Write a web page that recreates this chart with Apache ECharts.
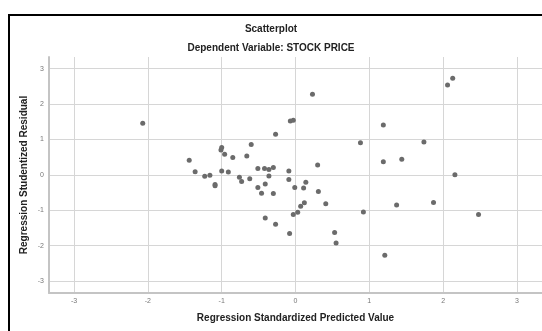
<!DOCTYPE html>
<html>
<head>
<meta charset="utf-8">
<script src="https://cdn.jsdelivr.net/npm/echarts@6/dist/echarts.min.js"></script>
<style>
  html, body { margin: 0; padding: 0; background: #fff; }
  #chart { width: 542px; height: 331px; }
</style>
</head>
<body>
<div id="chart"></div>
<script>
// predicted values (x) and studentized residuals (y)
const predicted = [
  -2.07, -1.44, -1.36, -1.23, -1.16, -1.09, -1.09, -1.01, -1.0, -0.96,
  -1.0, -0.91, -0.85, -0.76, -0.73, -0.66, -0.60, -0.62, -0.51, -0.51,
  -0.46, -0.42, -0.41, -0.36, -0.36, -0.30, -0.30, -0.27, -0.41, -0.27,
  -0.09, -0.09, -0.07, -0.03, 0.23, -0.01, 0.11, 0.14, 0.30, 0.31,
  0.12, 0.07, 0.03, -0.03, 0.41, -0.08, 0.53, 0.55,
  2.13, 2.06, 1.19, 0.88, 1.74, 1.19, 1.44, 2.16, 1.37, 1.87,
  0.92, 2.48, 1.21
]
const residual = [
  1.46, 0.41, 0.09, -0.04, -0.01, -0.27, -0.31, 0.70, 0.77, 0.58,
  0.11, 0.08, 0.49, -0.07, -0.19, 0.53, 0.86, -0.11, 0.18, -0.36,
  -0.52, 0.18, -0.26, 0.15, -0.03, 0.21, -0.53, 1.15, -1.22, -1.40,
  0.11, -0.13, 1.52, 1.54, 2.28, -0.36, -0.37, -0.21, 0.28, -0.47,
  -0.79, -0.89, -1.06, -1.12, -0.82, -1.66, -1.63, -1.93,
  2.73, 2.54, 1.41, 0.91, 0.93, 0.37, 0.44, 0.00, -0.85, -0.78,
  -1.05, -1.12, -2.27
]

const points = predicted.map((x, i) => [x, residual[i]])

const chart = echarts.init(document.getElementById('chart'))

const axisFont = { color: '#777', fontSize: 7, fontFamily: 'Liberation Sans' }
const nameFont = { color: '#222', fontSize: 10, fontWeight: 'bold', fontFamily: 'Liberation Sans' }
const titleFont = { color: '#222', fontSize: 10, fontWeight: 'bold', fontFamily: 'Liberation Sans' }

// no explicit interval: the axis picks 1 and lays ticks on whole numbers
const axisCommon = {
  type: 'value',
  splitNumber: 5,
  nameLocation: 'middle',
  nameGap: 20,
  nameMoveOverlap: false,
  nameTextStyle: nameFont,
  axisLine: { show: true, onZero: false, lineStyle: { color: '#c4c4c4', width: 2 } },
  axisTick: { show: false },
  axisLabel: { showMinLabel: false, showMaxLabel: false, margin: 5, ...axisFont },
  splitLine: { show: true, showMinLine: false, showMaxLine: false, lineStyle: { color: '#d6d6d6', width: 1 } }
}

chart.setOption({
  animation: false,
  title: [{
    text: 'Scatterplot',
    left: 'center',
    top: 24,
    padding: 0,
    textStyle: titleFont
  }, {
    text: 'Dependent Variable: STOCK PRICE',
    left: 'center',
    top: 43,
    padding: 0,
    textStyle: titleFont
  }],
  graphic: [{
    type: 'rect',
    shape: { x: 9, y: 15, width: 600, height: 400 },
    style: { fill: 'none', stroke: '#000', lineWidth: 2 },
    silent: true
  }],
  grid: { left: 49, top: 57, right: -3, bottom: 38 },
  xAxis: {
    ...axisCommon,
    min: -3.34,
    max: 3.34,
    name: 'Regression Standardized Predicted Value'
  },
  yAxis: {
    ...axisCommon,
    min: -3.34,
    max: 3.33,
    name: 'Regression Studentized Residual'
  },
  series: [{
    type: 'scatter',
    data: points,
    symbolSize: 5,
    itemStyle: { color: '#6b6b6b', opacity: 1 }
  }]
})
</script>
</body>
</html>
